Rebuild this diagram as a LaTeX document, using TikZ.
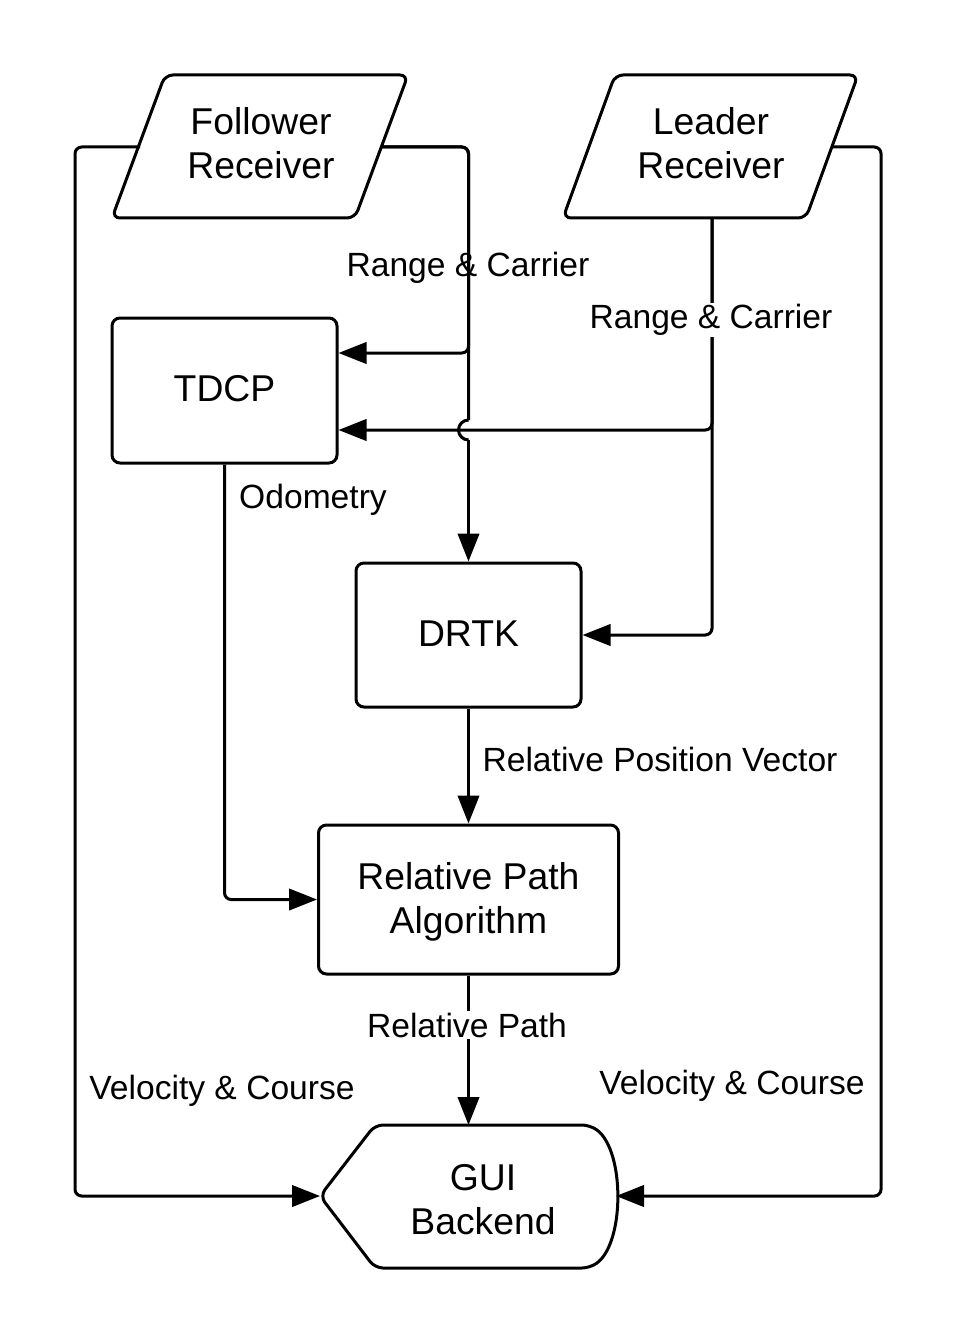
\documentclass[tikz,border=0pt]{standalone}
\usepackage{fontspec}
\setmainfont{Liberation Sans}
\usetikzlibrary{arrows.meta}

\tikzset{
  box/.style={draw, rounded corners=6pt, align=center, text depth=0.25em, font=\fontsize{28}{33}\selectfont},
  txt/.style={align=center, font=\fontsize{28}{33}\selectfont},
  lbl/.style={font=\fontsize{25.2}{29}\selectfont, inner sep=1pt},
  wire/.style={->, rounded corners=5pt},
}

\begin{document}
\begin{tikzpicture}[x=0.75pt, y=-0.75pt, line width=2.25pt, >={Triangle[length=21pt,width=16pt]}]
  \useasboundingbox (0,0) rectangle (956,1344);

  % receivers
  \draw[rounded corners=6pt] (165,75) -- (408,75) -- (355,218) -- (112,218) -- cycle;
  \node[txt] (fol) at (261,143) {Follower\\Receiver};
  \draw[rounded corners=6pt] (615,75) -- (858,75) -- (806,218) -- (563,218) -- cycle;
  \node[txt] (lead) at (711,143) {Leader\\Receiver};

  % blocks
  \node[box, minimum width=168.75pt, minimum height=108.75pt] (tdcp) at (224.5,390.5) {TDCP};
  \node[box, minimum width=168.75pt, minimum height=108pt] (drtk) at (468.5,635) {DRTK};
  \node[box, minimum width=225pt, minimum height=111.75pt] (rpa) at (468.5,899.5) {Relative Path\\Algorithm};

  % gui backend
  \draw[rounded corners=6pt] (320,1196) -- (375,1125) -- (590,1125)
    .. controls (625,1150) and (625,1243) .. (590,1268) -- (375,1268) -- cycle;
  \node[txt] (gui) at (483,1200) {GUI\\Backend};

  \coordinate (folL) at (140,147);
  \coordinate (folR) at (381,147);
  \coordinate (leadB) at (712,218);
  \coordinate (leadR) at (832,147);
  \coordinate (guiL) at (320,1196);
  \coordinate (guiR) at (616,1196);
  \coordinate (guiT) at (468.5,1125);
  \coordinate (hF) at (0,353);
  \coordinate (hL) at (0,430);
  \coordinate (hopA) at (468.5,420);
  \coordinate (hopB) at (468.5,440);

  % connectors
  \draw[wire] (folL) -| (75,1196) -- (guiL);
  \draw[rounded corners=5pt] (folR) -| (hopA);
  \draw (hopA) arc[start angle=270, end angle=90, radius=10];
  \draw[->] (hopB) -- (drtk.north);
  \draw[wire] (folR) -| (468.5,353) -- (tdcp.east |- hF);
  \draw[wire] (leadB) |- (tdcp.east |- hL);
  \draw[wire] (leadB) |- (drtk.east);
  \draw[wire] (leadR) -| (881,1196) -- (guiR);
  \draw[wire] (tdcp.south) |- (rpa.west);
  \draw[wire] (drtk.south) -- (rpa.north);
  \draw[wire] (rpa.south) -- (guiT);

  % labels
  \node[lbl] (rcF) at (468,268) {Range \& Carrier};
  \node[lbl, fill=white] (rcL) at (711,320) {Range \& Carrier};
  \node[lbl] (odo) at (313,500) {Odometry};
  \node[lbl] (rpv) at (660,759) {Relative Position Vector};
  \node[lbl, fill=white] (rp) at (467,1025) {Relative Path};
  \node[lbl] (vcF) at (222,1091) {Velocity \& Course};
  \node[lbl] (vcL) at (732,1086) {Velocity \& Course};
\end{tikzpicture}
\end{document}
